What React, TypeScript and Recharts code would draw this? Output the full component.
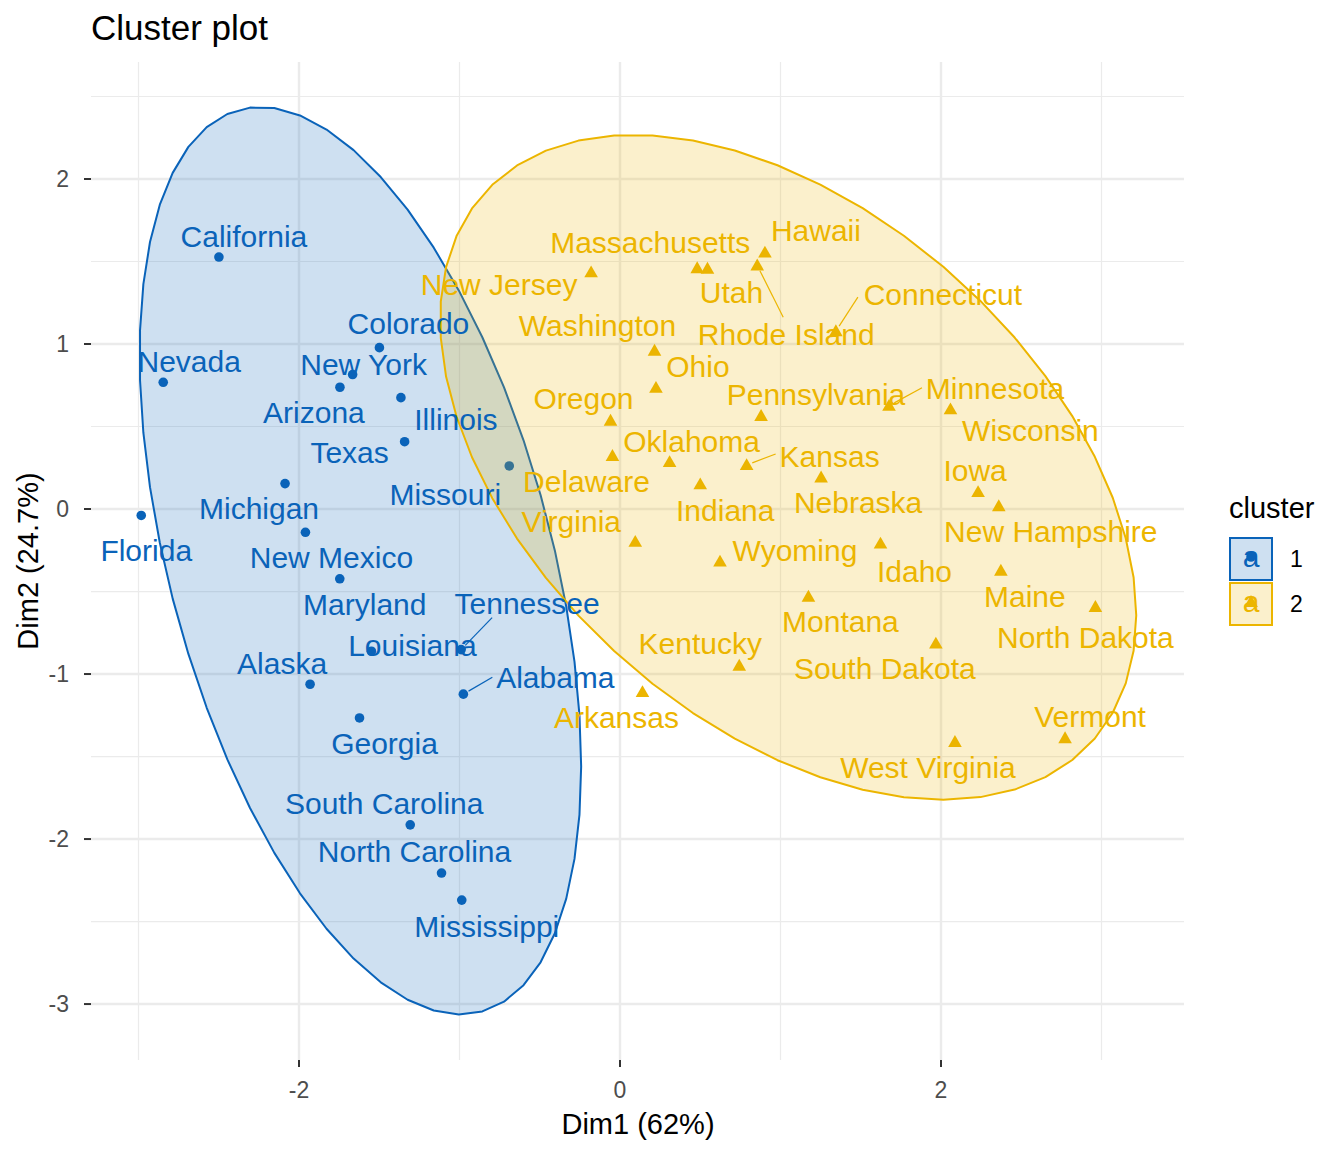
import React from 'react';
import { ScatterChart, Scatter, XAxis, YAxis, CartesianGrid } from 'recharts';

const FONT = "'Liberation Sans', Arial, Helvetica, sans-serif";

// USArrests, first two principal components, k-means with 2 clusters
const stateNames = [
  'Alabama', 'Alaska', 'Arizona', 'Arkansas', 'California', 'Colorado', 'Connecticut', 'Delaware',
  'Florida', 'Georgia', 'Hawaii', 'Idaho', 'Illinois', 'Indiana', 'Iowa', 'Kansas', 'Kentucky',
  'Louisiana', 'Maine', 'Maryland', 'Massachusetts', 'Michigan', 'Minnesota', 'Mississippi',
  'Missouri', 'Montana', 'Nebraska', 'Nevada', 'New Hampshire', 'New Jersey', 'New Mexico',
  'New York', 'North Carolina', 'North Dakota', 'Ohio', 'Oklahoma', 'Oregon', 'Pennsylvania',
  'Rhode Island', 'South Carolina', 'South Dakota', 'Tennessee', 'Texas', 'Utah', 'Vermont',
  'Virginia', 'Washington', 'West Virginia', 'Wisconsin', 'Wyoming',
];
const dim1 = [
  -0.976, -1.931, -1.745, 0.140, -2.499, -1.499, 1.345, -0.047,
  -2.983, -1.623, 0.903, 1.623, -1.365, 0.500, 2.231, 0.789, 0.743,
  -1.549, 2.373, -1.746, 0.481, -2.087, 1.676, -0.986,
  -0.690, 1.174, 1.253, -2.846, 2.360, -0.180, -1.960,
  -1.666, -1.112, 2.962, 0.224, 0.309, -0.059, 0.879,
  0.855, -1.307, 1.968, -0.990, -1.342, 0.545, 2.773,
  0.095, 0.215, 2.087, 2.059, 0.623,
];
const dim2 = [
  -1.122, -1.062, 0.738, -1.109, 1.527, 0.978, 1.078, 0.322,
  -0.039, -1.266, 1.555, -0.209, 0.675, 0.150, 0.103, 0.267, -0.949,
  -0.862, -0.373, -0.423, 1.460, 0.154, 0.626, -2.370,
  0.261, -0.531, 0.192, 0.768, 0.018, 1.435, -0.141,
  0.815, -2.206, -0.593, 0.735, 0.285, 0.536, 0.565,
  1.477, -1.914, -0.815, -0.852, 0.408, 1.457, -1.388,
  -0.198, 0.960, -1.411, 0.605, -0.318,
];
const clusterOf = [
  1, 1, 1, 2, 1, 1, 2, 2,
  1, 1, 2, 2, 1, 2, 2, 2, 2,
  1, 2, 1, 2, 1, 2, 1,
  1, 2, 2, 1, 2, 2, 1,
  1, 1, 2, 2, 2, 2, 2,
  2, 1, 2, 1, 1, 2, 2,
  2, 2, 2, 2, 2,
];

const clusterIds = [1, 2];
const clusterColors: Record<number, string> = { 1: '#0A63B9', 2: '#ECB500' };

const xTicks = [-2, 0, 2];
const yTicks = [-3, -2, -1, 0, 1, 2];
const xMinor = [-3, -1, 1, 3];
const yMinor = [-2.5, -1.5, -0.5, 0.5, 1.5, 2.5];
const xDomain = [-3.296, 3.514];
const yDomain = [-3.339, 2.709];

// where the repelled labels ended up, px offset of the text centre from its point
const labelNudge: Record<string, [number, number]> = {
  Alabama: [92, -17], Alaska: [-28, -21], Arizona: [-26, 25], Arkansas: [-26, 25],
  California: [25, -21], Colorado: [29, -24], Connecticut: [107, -37], Delaware: [-26, 25],
  Florida: [5, 35], Georgia: [25, 25], Hawaii: [51, -22], Idaho: [34, 28],
  Illinois: [55, 22], Indiana: [25, 26], Iowa: [-3, -22], Kansas: [83, -9],
  Kentucky: [-39, -22], Louisiana: [41, -6], Maine: [24, 26], Maryland: [25, 25],
  Massachusetts: [-47, -26], Michigan: [-26, 25], Minnesota: [106, -18], Mississippi: [25, 26],
  Missouri: [-64, 28], Montana: [32, 25], Nebraska: [37, 25], Nevada: [26, -21],
  'New Hampshire': [52, 25], 'New Jersey': [-92, 12], 'New Mexico': [26, 25], 'New York': [11, -10],
  'North Carolina': [-27, -22], 'North Dakota': [-10, 30], Ohio: [42, -22], Oklahoma: [22, -21],
  Oregon: [-27, -22], Pennsylvania: [55, -22], 'Rhode Island': [29, 69], 'South Carolina': [-26, -22],
  'South Dakota': [-51, 25], Tennessee: [66, -46], Texas: [-55, 11], Utah: [24, 24],
  Vermont: [25, -22], Virginia: [-64, -20], Washington: [-57, -25], 'West Virginia': [-27, 25],
  Wisconsin: [80, 21], Wyoming: [75, -11],
};
// segment ends for labels pushed far from their point
const leaderEnd: Record<string, [number, number]> = {
  Tennessee: [31, -32], Alabama: [29, -17], 'Rhode Island': [26, 52],
  Connecticut: [22, -34], Minnesota: [33, -18], Kansas: [29, -11],
};

type Row = { name: string; x: number; y: number; cluster: number };

const allRows: Row[] = stateNames.map((name, i) => ({ name, x: dim1[i], y: dim2[i], cluster: clusterOf[i] }));
const rowsOf = (c: number) => allRows.filter((r) => r.cluster === c);

// stat_ellipse(type = "t"): MASS::cov.trob then a 95% F-radius
function tEllipse(rows: Row[], level = 0.95, segments = 51) {
  const n = rows.length;
  const p = 2;
  const nu = 5;
  let loc = [rows.reduce((s, r) => s + r.x, 0) / n, rows.reduce((s, r) => s + r.y, 0) / n];
  let w = rows.map(() => 1);
  let X = rows.map((r) => [r.x - loc[0], r.y - loc[1]]);
  for (let iter = 0; iter < 25; iter++) {
    const w0 = w;
    X = rows.map((r) => [r.x - loc[0], r.y - loc[1]]);
    const sw = w.reduce((s, v) => s + v, 0);
    let a = 0, b = 0, c = 0;
    X.forEach(([dx, dy], i) => {
      a += (w[i] * dx * dx) / sw;
      b += (w[i] * dx * dy) / sw;
      c += (w[i] * dy * dy) / sw;
    });
    const det = a * c - b * b;
    w = X.map(([dx, dy]) => (nu + p) / (nu + (c * dx * dx - 2 * b * dx * dy + a * dy * dy) / det));
    const sw2 = w.reduce((s, v) => s + v, 0);
    loc = [
      rows.reduce((s, r, i) => s + w[i] * r.x, 0) / sw2,
      rows.reduce((s, r, i) => s + w[i] * r.y, 0) / sw2,
    ];
    if (w.every((v, i) => Math.abs(v - w0[i]) < 0.01)) break;
  }
  let sxx = 0, sxy = 0, syy = 0;
  X.forEach(([dx, dy], i) => {
    sxx += (w[i] * dx * dx) / n;
    sxy += (w[i] * dx * dy) / n;
    syy += (w[i] * dy * dy) / n;
  });
  const r11 = Math.sqrt(sxx);
  const r12 = sxy / r11;
  const r22 = Math.sqrt(syy - r12 * r12);
  const d = n - 1;
  const qf = (d / 2) * (Math.pow(1 - level, -2 / d) - 1);
  const radius = Math.sqrt(2 * qf);
  const out: { x: number; y: number }[] = [];
  for (let k = 0; k <= segments; k++) {
    const t = (k * 2 * Math.PI) / segments;
    out.push({
      x: loc[0] + radius * Math.cos(t) * r11,
      y: loc[1] + radius * (Math.cos(t) * r12 + Math.sin(t) * r22),
    });
  }
  return out;
}

const Nothing = () => <g />;

const ellipseOutline = (color: string) => (lp: any) => {
  const pts: { x: number; y: number }[] = lp.points || [];
  const d = pts.map((pt, i) => `${i ? 'L' : 'M'}${pt.x},${pt.y}`).join(' ') + ' Z';
  return <path d={d} fill={color} fillOpacity={0.2} stroke={color} strokeWidth={2} strokeLinejoin="round" />;
};

const PointMark = (props: any) => {
  const { cx, cy, payload } = props;
  const color = clusterColors[payload.cluster];
  if (payload.cluster === 1) return <circle cx={cx} cy={cy} r={4.8} fill={color} />;
  const s = 6.8;
  return <path d={`M${cx},${cy - s}L${cx + s},${cy + s * 0.75}L${cx - s},${cy + s * 0.75}Z`} fill={color} />;
};

const StateLabel = (props: any) => {
  const { cx, cy, payload } = props;
  const color = clusterColors[payload.cluster];
  const [dx, dy] = labelNudge[payload.name] ?? [0, -22];
  const lead = leaderEnd[payload.name];
  let seg = null;
  if (lead) {
    const len = Math.hypot(lead[0], lead[1]);
    seg = (
      <line
        x1={cx + (lead[0] / len) * 6}
        y1={cy + (lead[1] / len) * 6}
        x2={cx + lead[0]}
        y2={cy + lead[1]}
        stroke={color}
        strokeWidth={1.2}
      />
    );
  }
  return (
    <g>
      {seg}
      <text x={cx + dx} y={cy + dy} dy="0.36em" textAnchor="middle" fontSize={30} fontFamily={FONT} fill={color}>
        {payload.name}
      </text>
    </g>
  );
};

function Overlay() {
  return (
    <svg width={1344} height={1152} style={{ position: 'absolute', left: 0, top: 0, pointerEvents: 'none' }}>
      <text x={91} y={39.5} fontSize={35} fontFamily={FONT} fill="#000000">Cluster plot</text>
      <text x={638} y={1124} dy="0.36em" textAnchor="middle" fontSize={29} fontFamily={FONT} fill="#000000">
        Dim1 (62%)
      </text>
      <text
        x={28}
        y={561}
        dy="0.36em"
        textAnchor="middle"
        transform="rotate(-90 28 561)"
        fontSize={29}
        fontFamily={FONT}
        fill="#000000"
      >
        Dim2 (24.7%)
      </text>
      <text x={1229} y={518} fontSize={29} fontFamily={FONT} fill="#000000">cluster</text>
      {clusterIds.map((c, i) => {
        const top = 538 + i * 45;
        const mx = 1251;
        const my = top + 21;
        const color = clusterColors[c];
        return (
          <g key={c}>
            <rect x={1230} y={top} width={42} height={42} fill={color} fillOpacity={0.2} stroke={color} strokeWidth={2} />
            <text x={mx} y={my + 8} textAnchor="middle" fontSize={30} fontFamily={FONT} fill={color}>a</text>
            {c === 1 ? (
              <circle cx={mx} cy={my - 2} r={4.8} fill={color} />
            ) : (
              <path d={`M${mx},${my - 9}L${mx + 6.8},${my + 3}L${mx - 6.8},${my + 3}Z`} fill={color} />
            )}
            <text x={1290} y={my} dy="0.36em" fontSize={23} fontFamily={FONT} fill="#000000">{c}</text>
          </g>
        );
      })}
    </svg>
  );
}

export default function App() {
  const tick = { fill: '#4D4D4D', fontSize: 23, fontFamily: FONT };
  const tickLine = { stroke: '#333333', strokeWidth: 2 };
  return (
    <div style={{ position: 'absolute', left: 0, top: 0, width: 1344, height: 1152, background: '#ffffff' }}>
      <ScatterChart width={1344} height={1152} margin={{ top: 62, right: 160, bottom: 12, left: 0 }}>
        <CartesianGrid stroke="#EBEBEB" strokeWidth={1.2} verticalValues={xMinor} horizontalValues={yMinor} />
        <CartesianGrid stroke="#EBEBEB" strokeWidth={2.4} verticalValues={xTicks} horizontalValues={yTicks} />
        <XAxis
          type="number"
          dataKey="x"
          domain={xDomain}
          allowDataOverflow
          ticks={xTicks}
          axisLine={false}
          tickLine={tickLine}
          tickSize={7}
          tickMargin={15}
          tick={tick}
          height={80}
        />
        <YAxis
          type="number"
          dataKey="y"
          domain={yDomain}
          allowDataOverflow
          ticks={yTicks}
          axisLine={false}
          tickLine={tickLine}
          tickSize={7}
          tickMargin={15}
          tick={tick}
          width={91}
        />
        {clusterIds.map((c) => (
          <Scatter key={`pts-${c}`} data={rowsOf(c)} shape={PointMark} isAnimationActive={false} />
        ))}
        {clusterIds.map((c) => (
          <Scatter
            key={`ell-${c}`}
            data={tEllipse(rowsOf(c))}
            shape={Nothing}
            line={ellipseOutline(clusterColors[c])}
            lineType="joint"
            isAnimationActive={false}
          />
        ))}
        <Scatter data={allRows} shape={StateLabel} isAnimationActive={false} />
      </ScatterChart>
      <Overlay />
    </div>
  );
}
